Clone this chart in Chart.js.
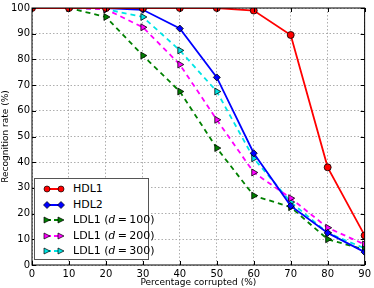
<!DOCTYPE html>
<html>
<head>
<meta charset="utf-8">
<script src="https://cdn.jsdelivr.net/npm/chart.js@4"></script>
<style>
  body { margin: 0; background: #fff; }
  #wrap { position: relative; width: 374px; height: 288px; }
  #legend {
    position: absolute; left: 34px; top: 178px; width: 115px; height: 82px;
    border: 1px solid #555; background: #fff; box-sizing: border-box;
    font-family: "DejaVu Sans", sans-serif; font-size: 11px; color: #000;
  }
  #legend .row { position: absolute; left: 0; height: 14px; line-height: 14px; white-space: nowrap; }
  #legend svg { position: absolute; left: 9px; top: 1px; }
  #legend span { position: absolute; left: 38px; }
  #legend i { font-family: "DejaVu Serif", serif; }
</style>
</head>
<body>
<div id="wrap">
  <canvas id="chart" width="374" height="288"></canvas>
  <div id="legend"></div>
</div>
<script>
const corrupted = [0, 10, 20, 30, 40, 50, 60, 70, 80, 90];
const hdl1 = [100, 100, 100, 100, 100, 100, 99, 89.5, 38, 11.5];
const hdl2 = [100, 100, 100, 99.3, 92, 73, 43.5, 23, 12.5, 5];
const ldl100 = [100, 100, 96.5, 81.5, 67.5, 45.5, 27, 22.5, 10, 6];
const ldl200 = [100, 100, 99.5, 92.5, 78, 56.5, 36, 26, 14.5, 8];
const ldl300 = [100, 100, 99.5, 96.5, 83.5, 67.5, 41.5, 24.5, 12.5, 6.5];
const yTicks = [0, 10, 20, 30, 40, 50, 60, 70, 80, 90, 100];

const seriesNames = ['HDL1', 'HDL2', 'LDL1 (d=100)', 'LDL1 (d=200)', 'LDL1 (d=300)'];
const colors = ['#ff0000', '#0000ff', '#008000', '#ff00ff', '#00e5e5'];

function pairs(vals) {
  return corrupted.map((x, i) => ({ x: x, y: vals[i] }));
}

function solid(label, vals, color, marker) {
  return {
    label: label, data: pairs(vals),
    borderColor: color, backgroundColor: color, borderWidth: 1.8,
    pointStyle: marker, pointRadius: 3.5, pointBorderColor: '#000', pointBorderWidth: 0.8,
    pointBackgroundColor: color, tension: 0
  };
}
function dashed(label, vals, color) {
  return {
    label: label, data: pairs(vals),
    borderColor: color, backgroundColor: color, borderWidth: 1.8, borderDash: [5, 4],
    pointStyle: 'triangle', rotation: 90, pointRadius: 4, pointBorderColor: '#000',
    pointBorderWidth: 0.8, pointBackgroundColor: color, tension: 0
  };
}

const frame = {
  id: 'frame',
  afterDraw(chart) {
    const a = chart.chartArea, c = chart.ctx;
    c.save();
    c.strokeStyle = '#000';
    c.lineWidth = 1;
    c.strokeRect(a.left, a.top, a.right - a.left, a.bottom - a.top);
    // inward ticks like matplotlib
    c.beginPath();
    chart.scales.x.ticks.forEach((t, i) => {
      const px = Math.round(chart.scales.x.getPixelForTick(i)) + 0.5;
      c.moveTo(px, a.bottom); c.lineTo(px, a.bottom - 4);
      c.moveTo(px, a.top); c.lineTo(px, a.top + 4);
    });
    chart.scales.y.ticks.forEach((t, i) => {
      const py = Math.round(chart.scales.y.getPixelForTick(i)) + 0.5;
      c.moveTo(a.left, py); c.lineTo(a.left + 4, py);
      c.moveTo(a.right, py); c.lineTo(a.right - 4, py);
    });
    c.stroke();
    c.restore();
  }
};

const grid = { color: '#999', lineWidth: 0.8, drawTicks: false };
const border = { display: false, dash: [1.5, 2] };

new Chart(document.getElementById('chart'), {
  type: 'line',
  data: {
    datasets: [
      solid(seriesNames[0], hdl1, colors[0], 'circle'),
      solid(seriesNames[1], hdl2, colors[1], 'rectRot'),
      dashed(seriesNames[2], ldl100, colors[2]),
      dashed(seriesNames[3], ldl200, colors[3]),
      dashed(seriesNames[4], ldl300, colors[4])
    ]
  },
  options: {
    responsive: false,
    animation: false,
    layout: { padding: { top: 5, right: 6, left: 0, bottom: 0 } },
    plugins: { legend: { display: false }, tooltip: { enabled: false } },
    scales: {
      x: {
        type: 'linear', min: 0, max: 90,
        afterBuildTicks: s => { s.ticks = corrupted.map(v => ({ value: v })); },
        afterFit: s => { s.height = 23; },
        grid: grid, border: border,
        ticks: { color: '#000', padding: 3, font: { family: 'DejaVu Sans', size: 10 }, maxRotation: 0 },
        title: { display: true, text: 'Percentage corrupted (%)', color: '#000', padding: 0,
                 font: { family: 'DejaVu Sans', size: 9 } }
      },
      y: {
        min: 0, max: 100,
        afterBuildTicks: s => { s.ticks = yTicks.map(v => ({ value: v })); },
        afterFit: s => { s.width = 32; },
        grid: grid, border: border,
        ticks: { color: '#000', padding: 2, font: { family: 'DejaVu Sans', size: 10 } },
        title: { display: true, text: 'Recognition rate (%)', color: '#000', padding: 0,
                 font: { family: 'DejaVu Sans', size: 9 } }
      }
    }
  },
  plugins: [frame]
});

// legend as html
const legend = document.getElementById('legend');
const markerSvg = [
  c => `<circle cx="3" cy="6" r="3" fill="${c}" stroke="#000" stroke-width="0.7"/><circle cx="17" cy="6" r="3" fill="${c}" stroke="#000" stroke-width="0.7"/>`,
  c => `<polygon points="3,2.5 6.5,6 3,9.5 -0.5,6" fill="${c}" stroke="#000" stroke-width="0.7"/><polygon points="17,2.5 20.5,6 17,9.5 13.5,6" fill="${c}" stroke="#000" stroke-width="0.7"/>`,
  c => `<polygon points="0,3 6,6 0,9" fill="${c}" stroke="#000" stroke-width="0.7"/><polygon points="14,3 20,6 14,9" fill="${c}" stroke="#000" stroke-width="0.7"/>`
];
seriesNames.forEach((name, i) => {
  const row = document.createElement('div');
  row.className = 'row';
  row.style.top = (3 + i * 15.5) + 'px';
  const isDash = i >= 2;
  const line = `<line x1="3" y1="6" x2="17" y2="6" stroke="${colors[i]}" stroke-width="2" ${isDash ? 'stroke-dasharray="4,3"' : ''}/>`;
  const mk = markerSvg[Math.min(i, 2)](colors[i]);
  let text = name;
  const m = name.match(/^(.*)\(d=(\d+)\)$/);
  if (m) text = m[1] + '(<i>d</i>\u2009=\u2009' + m[2] + ')';
  row.innerHTML = `<svg width="22" height="12" style="overflow:visible">${line}${mk}</svg><span>${text}</span>`;
  legend.appendChild(row);
});
</script>
</body>
</html>
